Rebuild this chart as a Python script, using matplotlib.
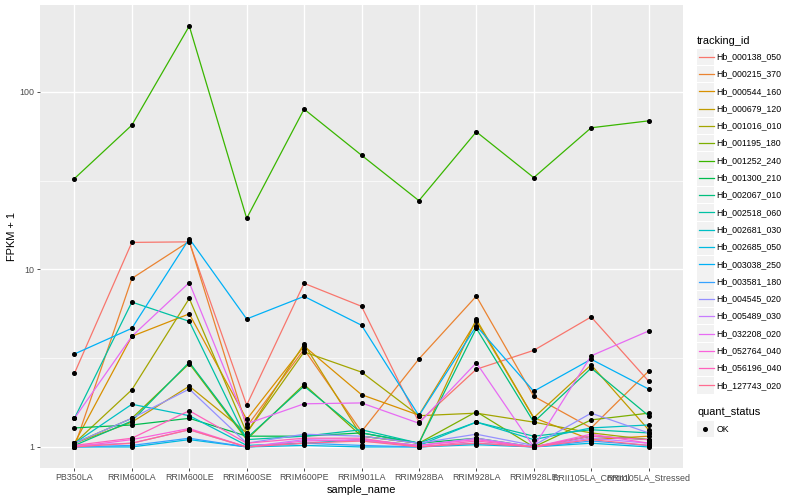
import numpy as np
import matplotlib
matplotlib.use("Agg")
from matplotlib import pyplot as plt
from matplotlib.lines import Line2D
from matplotlib.patches import Rectangle
from matplotlib.ticker import FixedLocator, NullFormatter

plt.rcParams['font.family'] = ['Liberation Sans', 'DejaVu Sans']

# %% DATA (FPKM + 1)
samples = ['PB350LA', 'RRIM600LA', 'RRIM600LE', 'RRIM600SE', 'RRIM600PE', 'RRIM901LA',
           'RRIM928BA', 'RRIM928LA', 'RRIM928LE', 'RRII105LA_Control', 'RRII105LA_Stressed']

tracking_ids = ['Hb_000138_050', 'Hb_000215_370', 'Hb_000544_160', 'Hb_000679_120',
                'Hb_001016_010', 'Hb_001195_180', 'Hb_001252_240', 'Hb_001300_210',
                'Hb_002067_010', 'Hb_002518_060', 'Hb_002681_030', 'Hb_002685_050',
                'Hb_003038_250', 'Hb_003581_180', 'Hb_004545_020', 'Hb_005489_030',
                'Hb_032208_020', 'Hb_052764_040', 'Hb_056196_040', 'Hb_127743_020']

hb_000138_050 = [2.6, 14.2, 14.3, 1.72, 8.35, 6.2, 1.38, 2.74, 3.5, 5.4, 2.35]
hb_000215_370 = [1.0, 8.9, 14.4, 1.3, 3.55, 1.22, 3.13, 7.07, 1.93, 1.28, 2.67]
hb_000544_160 = [1.05, 4.2, 5.62, 1.43, 3.7, 1.97, 1.51, 5.12, 1.46, 1.1, 1.15]
hb_000679_120 = [1.05, 1.38, 2.2, 1.2, 3.8, 1.15, 1.05, 5.24, 1.46, 2.9, 1.25]
hb_001016_010 = [1.05, 2.1, 6.86, 1.2, 3.43, 2.64, 1.5, 1.55, 1.38, 1.2, 1.1]
hb_001195_180 = [1.05, 1.45, 2.95, 1.1, 2.25, 1.15, 1.05, 1.58, 1.0, 1.42, 1.55]
hb_001252_240 = [32.5, 65.0, 235.0, 19.4, 80.0, 44.0, 24.4, 59.6, 32.9, 62.8, 68.7]
hb_001300_210 = [1.28, 1.33, 1.45, 1.15, 1.15, 1.2, 1.05, 1.12, 1.0, 1.15, 1.1]
hb_002067_010 = [1.02, 1.4, 3.0, 1.12, 2.2, 1.2, 1.05, 4.66, 1.38, 2.78, 1.5]
hb_002518_060 = [1.45, 6.55, 5.1, 1.1, 1.15, 1.25, 1.05, 1.38, 1.15, 1.25, 1.2]
hb_002681_030 = [1.05, 1.74, 1.5, 1.02, 1.05, 1.1, 1.02, 1.38, 1.1, 1.28, 1.33]
hb_002685_050 = [1.0, 1.0, 1.1, 1.0, 1.02, 1.0, 1.0, 1.03, 1.0, 1.05, 1.0]
hb_003038_250 = [3.34, 4.66, 14.9, 5.26, 7.05, 4.85, 1.5, 4.8, 2.06, 3.12, 2.12]
hb_003581_180 = [1.0, 1.02, 1.12, 1.0, 1.05, 1.02, 1.0, 1.05, 1.0, 1.08, 1.02]
hb_004545_020 = [1.05, 1.45, 2.12, 1.05, 1.18, 1.15, 1.05, 1.18, 1.02, 1.55, 1.2]
hb_005489_030 = [1.02, 1.05, 1.25, 1.0, 1.1, 1.08, 1.02, 1.12, 1.0, 1.12, 1.05]
hb_032208_020 = [1.45, 4.2, 8.43, 1.35, 1.75, 1.77, 1.36, 2.98, 1.0, 3.26, 4.5]
hb_052764_040 = [1.0, 1.1, 1.27, 1.0, 1.08, 1.1, 1.02, 1.1, 1.0, 1.18, 1.05]
hb_056196_040 = [1.02, 1.12, 1.6, 1.05, 1.12, 1.12, 1.0, 1.08, 1.0, 1.15, 1.1]
hb_127743_020 = [1.0, 1.05, 1.25, 1.0, 1.05, 1.08, 1.0, 1.05, 1.0, 1.1, 1.02]

series = [hb_000138_050, hb_000215_370, hb_000544_160, hb_000679_120, hb_001016_010,
          hb_001195_180, hb_001252_240, hb_001300_210, hb_002067_010, hb_002518_060,
          hb_002681_030, hb_002685_050, hb_003038_250, hb_003581_180, hb_004545_020,
          hb_005489_030, hb_032208_020, hb_052764_040, hb_056196_040, hb_127743_020]

# ggplot hue_pal() with 20 levels
colors = ['#F8766D', '#EA8331', '#D89000', '#C09B00', '#A3A500', '#7CAE00', '#39B600',
          '#00BB4E', '#00BF7D', '#00C1A3', '#00BFC4', '#00BAE0', '#00B0F6', '#35A2FF',
          '#9590FF', '#C77CFF', '#E76BF3', '#FA62DB', '#FF62BC', '#FF6C91']

# %% FIGURE
W, H = 800, 500
fx = lambda px: px / W
fy = lambda py: 1 - py / H

fig = plt.figure(figsize=(W / 100, H / 100), dpi=100)
ax = fig.add_axes([fx(40), fy(468), (683 - 40) / W, (468 - 5) / H])
ax.set_facecolor('#EBEBEB')
for s in ax.spines.values():
    s.set_visible(False)

x = np.arange(1, len(samples) + 1)
for vals, c in zip(series, colors):
    ax.plot(x, vals, color=c, lw=0.9, zorder=2)
for vals in series:
    ax.plot(x, vals, ls='none', marker='o', ms=2.6, color='black', zorder=3)

ax.set_xlim(0.4, len(samples) + 0.6)
logs = np.log10(np.concatenate(series))
pad = 0.05 * (logs.max() - logs.min())
ax.set_yscale('log')
ax.set_ylim(10 ** (logs.min() - pad), 10 ** (logs.max() + pad))

ax.set_xticks(x)
ax.set_xticklabels(samples)
ax.set_yticks([1, 10, 100])
ax.set_yticklabels(['1', '10', '100'])
ax.yaxis.set_minor_locator(FixedLocator([10 ** -0.5, 10 ** 0.5, 10 ** 1.5, 10 ** 2.5]))
ax.yaxis.set_minor_formatter(NullFormatter())
ax.tick_params(which='major', length=2.3, width=0.6, color='#333333',
               labelsize=6.4, labelcolor='#4D4D4D', pad=1.5)
ax.tick_params(which='minor', length=0)
ax.grid(which='major', color='white', lw=1.0)
ax.yaxis.grid(which='minor', color='white', lw=0.5)
ax.set_axisbelow(True)

ax.set_xlabel('sample_name', fontsize=7.9, labelpad=2)
ax.set_ylabel('FPKM + 1', fontsize=7.9, labelpad=2)

# %% LEGENDS
fig.text(fx(697), fy(40.7), 'tracking_id', fontsize=7.9, va='center', ha='left')
for i, (tid, c) in enumerate(zip(tracking_ids, colors)):
    yc = 56.7 + 17.3 * i
    fig.add_artist(Rectangle((fx(697), fy(yc + 8.2)), 16.5 / W, 16.4 / H,
                             transform=fig.transFigure, facecolor='#F2F2F2', edgecolor='none'))
    fig.add_artist(Line2D([fx(698.5), fx(713.5)], [fy(yc), fy(yc)], color=c, lw=0.9,
                          transform=fig.transFigure))
    fig.text(fx(716.5), fy(yc), tid, fontsize=6.3, va='center', ha='left')

fig.text(fx(697), fy(412.3), 'quant_status', fontsize=7.9, va='center', ha='left')
fig.add_artist(Rectangle((fx(697), fy(429 + 8.2)), 16.5 / W, 16.4 / H,
                         transform=fig.transFigure, facecolor='#F2F2F2', edgecolor='none'))
fig.add_artist(Line2D([fx(705.2)], [fy(429)], ls='none', marker='o', ms=2.6, color='black',
                      transform=fig.transFigure))
fig.text(fx(716.5), fy(429), 'OK', fontsize=6.3, va='center', ha='left')

fig.savefig('out.png', dpi=100)
